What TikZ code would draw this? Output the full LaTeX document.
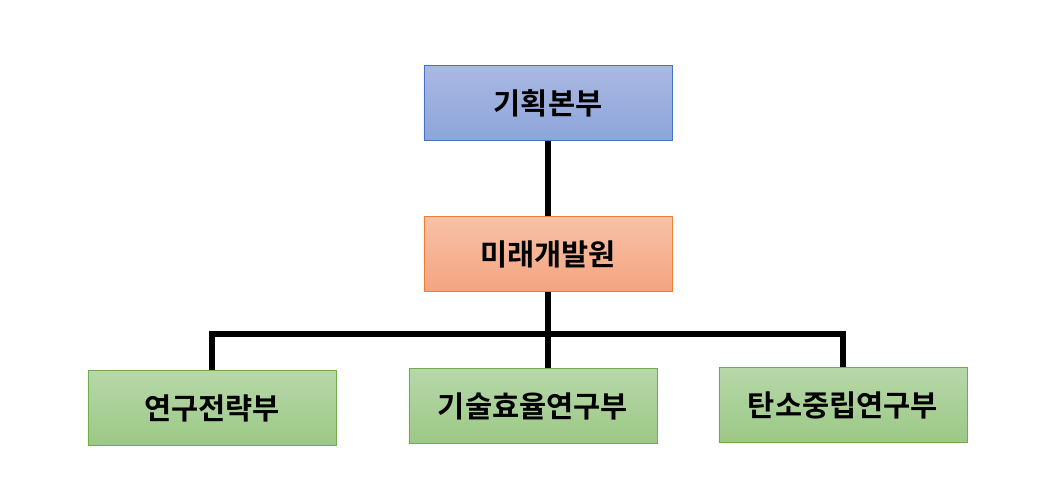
\documentclass[tikz,border=0pt]{standalone}
\usepackage{fontspec}
\newfontfamily\kfont{Noto Sans CJK KR}[BoldFont={* Bold}]
\usetikzlibrary{positioning}

\definecolor{bluetop}{HTML}{AAB8E2}
\definecolor{bluebot}{HTML}{8DA5DB}
\definecolor{blueline}{HTML}{4472C4}
\definecolor{orgtop}{HTML}{F8C1A8}
\definecolor{orgbot}{HTML}{F4A47F}
\definecolor{orgline}{HTML}{ED7D31}
\definecolor{grntop}{HTML}{B7D8A9}
\definecolor{grnbot}{HTML}{9CC886}
\definecolor{grnline}{HTML}{70AD47}

\tikzset{
  unit/.style={draw,line width=0.6pt,minimum width=6.2cm,minimum height=1.875cm,
    font=\kfont\bfseries\fontsize{21pt}{24pt}\selectfont,inner sep=0pt},
  hq/.style={unit,top color=bluetop,bottom color=bluebot,draw=blueline},
  inst/.style={unit,top color=orgtop,bottom color=orgbot,draw=orgline},
  dept/.style={unit,top color=grntop,bottom color=grnbot,draw=grnline},
  link/.style={line width=3.6pt,line join=miter}
}

\begin{document}
\begin{tikzpicture}[x=0.025cm,y=-0.025cm]
\useasboundingbox (0,0) rectangle (1058,499);
\node[hq] (plan) at (548,103) {기획본부};
\node[inst] (fut) at (548,254) {미래개발원};
\node[dept] (strat) at (212,408) {연구전략부};
\node[dept] (tech) at (533,406) {기술효율연구부};
\node[dept] (carb) at (843,405) {탄소중립연구부};
\coordinate (hub) at (548,334);
\draw[link] (plan) -- (fut);
\draw[link] (fut) -- (hub);
\draw[link] (strat.north) |- (hub) -| (carb.north);
\draw[link] (hub) -- (hub |- tech.north);
\end{tikzpicture}
\end{document}
